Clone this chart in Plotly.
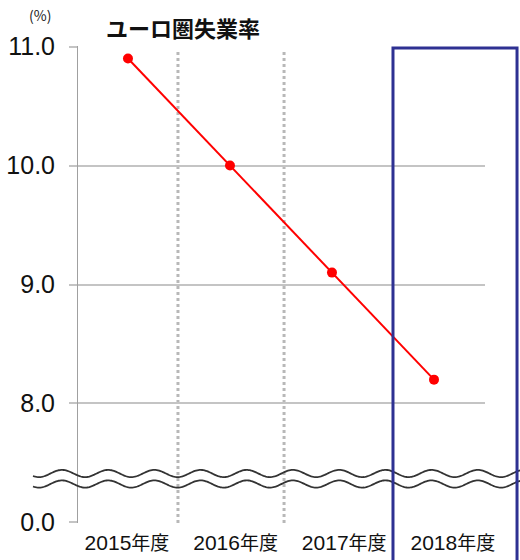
import numpy as np
import plotly.graph_objects as go

# ユーロ圏失業率 (%), fiscal years
years = ["2015年度", "2016年度", "2017年度", "2018年度"]
rates = [10.9, 10.0, 9.1, 8.2]

# broken y axis: the bottom tick stands for 0.0
y_tick_vals = [7, 8, 9, 10, 11]
y_tick_text = ["0.0", "8.0", "9.0", "10.0", "11.0"]

RED = "#ff0000"
NAVY = "#2e3192"
GRID = "#c4c4c4"

x_idx = list(range(len(years)))
X_RANGE = [-0.49, 3.5]

fig = go.Figure()
fig.add_trace(go.Scatter(
    x=x_idx, y=rates, mode="lines+markers",
    line=dict(color=RED, width=2),
    marker=dict(color=RED, size=10),
    hoverinfo="skip", showlegend=False, cliponaxis=False,
))

# year labels sit on a slightly wider pitch than the points
label_step = 1.065
label_pos = [i * label_step - 0.01 for i in x_idx]

W, H = 520, 560
L, R, T, B = 78, 35, 46, 37
pw, ph = W - L - R, H - T - B


def py(px_y):
    """pixel row -> paper y"""
    return (H - B - px_y) / ph


def px_x(px):
    """pixel column -> paper x"""
    return (px - L) / pw


def dx(v):
    """x data value -> paper x"""
    return (v - X_RANGE[0]) / (X_RANGE[1] - X_RANGE[0])


shapes = []

# dotted separators between the year columns
for xs in (0.49, 1.53):
    shapes.append(dict(
        type="line", xref="paper", yref="paper", x0=dx(xs), x1=dx(xs), y0=0, y1=py(52),
        line=dict(color="#b8b8b8", width=3, dash="3px,3px"), layer="below",
    ))

# axis break: two parallel wavy lines
period, amp = 46.2, 3.6
xs_px = np.linspace(33, 522, 400)
for centre in (473.5, 484.0):
    ys_px = centre - amp * np.cos(2 * np.pi * (xs_px - 62) / period)
    pts = [f"{px_x(a):.5f},{py(b):.5f}" for a, b in zip(xs_px, ys_px)]
    shapes.append(dict(
        type="path", xref="paper", yref="paper",
        path="M" + " L".join(pts),
        line=dict(color="#333333", width=1.8),
    ))

# highlighted forecast column
shapes.append(dict(
    type="rect", xref="paper", yref="paper",
    x0=dx(2.598), x1=dx(3.814), y0=-0.2, y1=py(48),
    line=dict(color=NAVY, width=3), fillcolor="rgba(0,0,0,0)",
))

annotations = [
    dict(text="<b>ユーロ圏失業率</b>", xref="paper", yref="paper",
         x=px_x(104), y=py(27), xanchor="left", yanchor="middle",
         showarrow=False,
         font=dict(family="Noto Sans CJK JP", size=22, color="#111111")),
    dict(text="(%)", xref="paper", yref="paper",
         x=px_x(40), y=py(15), xanchor="center", yanchor="middle",
         showarrow=False,
         font=dict(family="Noto Sans CJK JP", size=14, color="#222222")),
]

fig.update_layout(
    width=W, height=H,
    margin=dict(l=L, r=R, t=T, b=B, pad=0, autoexpand=False),
    paper_bgcolor="white", plot_bgcolor="white",
    shapes=shapes, annotations=annotations,
    xaxis=dict(
        range=X_RANGE, showgrid=False, zeroline=False, showline=False,
        tickmode="array", tickvals=label_pos,
        ticktext=[f"{y[:4]}<span style='font-size:19px'>{y[4:]}</span>" for y in years],
        tickfont=dict(family="Liberation Sans, Noto Sans CJK JP", size=21, color="#111111"),
        ticks="", ticklabelstandoff=5, fixedrange=True, automargin=False,
    ),
    yaxis=dict(
        range=[6.995, 11.005], tickmode="array",
        tickvals=y_tick_vals, ticktext=y_tick_text,
        showgrid=True, gridcolor=GRID, gridwidth=1.5, zeroline=False,
        showline=True, linecolor="#a0a0a0", linewidth=1,
        ticks="outside", ticklen=8, tickcolor=GRID, tickwidth=1.5,
        tickfont=dict(family="Liberation Sans, Arial", size=25, color="#111111"),
        ticklabelstandoff=9, fixedrange=True, automargin=False,
    ),
)

fig.write_html("out.html")
